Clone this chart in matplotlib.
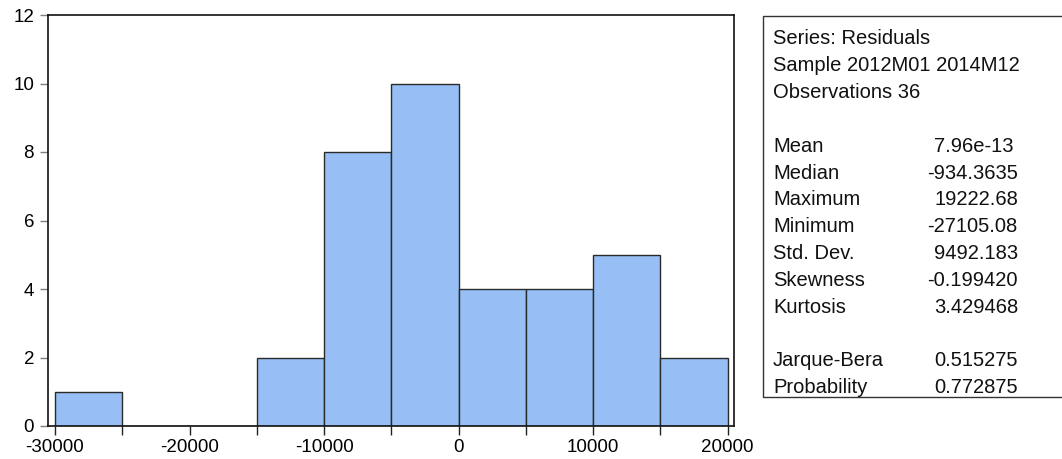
import matplotlib
matplotlib.use('Agg')
from matplotlib import pyplot as plt
from matplotlib.patches import Rectangle

# histogram of residuals (bin edges and counts)
bin_edges = [-30000, -25000, -20000, -15000, -10000, -5000, 0, 5000, 10000, 15000, 20000]
counts = [1, 0, 0, 2, 8, 10, 4, 4, 5, 2]

stat_header = ["Series: Residuals", "Sample 2012M01 2014M12", "Observations 36"]
stat_names = ["Mean", "Median", "Maximum", "Minimum", "Std. Dev.", "Skewness", "Kurtosis"]
stat_values = ["7.96e-13", "-934.3635", "19222.68", "-27105.08", "9492.183", "-0.199420", "3.429468"]
test_names = ["Jarque-Bera", "Probability"]
test_values = ["0.515275", "0.772875"]

plt.rcParams['font.family'] = ['Liberation Sans', 'DejaVu Sans']
plt.rcParams['axes.unicode_minus'] = False

W, H = 1062, 459
fig = plt.figure(figsize=(W / 100, H / 100), dpi=100)
ax = fig.add_axes([48 / W, 1 - 426 / H, (734 - 48) / W, (426 - 15) / H])

widths = [b - a for a, b in zip(bin_edges[:-1], bin_edges[1:])]
ax.bar(bin_edges[:-1], counts, width=widths, align='edge',
       color='#97bff5', edgecolor='#2a2a2a', linewidth=1.0)

ax.set_xlim(-30520, 20480)
ax.set_ylim(0, 12)
ax.set_yticks(range(0, 13, 2))
ax.set_xticks(range(-30000, 20001, 10000))
ax.set_xticks(bin_edges, minor=True)
ax.tick_params(axis='both', which='both', direction='out', labelsize=13.5, width=1)
ax.tick_params(axis='y', length=6, pad=4, color='#808080')
ax.tick_params(axis='x', which='both', length=6.5, pad=3, color='#222222')
for s in ax.spines.values():
    s.set_color('#111111')
    s.set_linewidth(1.2)

# stats box (right edge runs off the image)
box = Rectangle((763 / W, 1 - 397 / H), (1075 - 763) / W, (397 - 16) / H,
                transform=fig.transFigure, facecolor='white', edgecolor='#333333',
                linewidth=1.0)
fig.patches.append(box)

def put(text, x, y):
    fig.text(x / W, 1 - y / H, text, fontsize=14.5, va='center', ha='left', color='#111111')

step = 26.8
y = 39
for t in stat_header:
    put(t, 773, y)
    y += step
y += step
for name, val in zip(stat_names, stat_values):
    put(name, 773, y)
    put(val, 927 if val.startswith('-') else 934, y)
    y += step
y += step
for name, val in zip(test_names, test_values):
    put(name, 773, y)
    put(val, 934, y)
    y += step

fig.savefig('out.png', dpi=100)
